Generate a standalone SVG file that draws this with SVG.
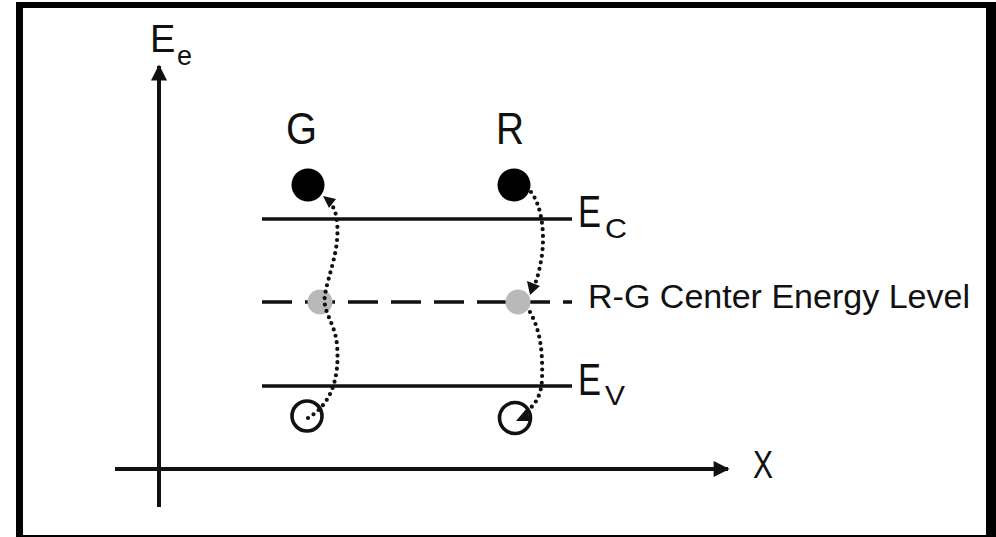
<svg xmlns="http://www.w3.org/2000/svg" width="996" height="537" viewBox="0 0 996 537">
<defs>
<style>
.lbl{font-family:"Liberation Sans",Arial,sans-serif;fill:#111}
.ax{stroke:#111;stroke-width:4;fill:none}
.lvl{stroke:#111;stroke-width:3.5;fill:none}
.dot{stroke:#111;stroke-width:4.2;fill:none;stroke-linecap:round;stroke-dasharray:0 6.6}
.head{fill:#111}
</style>
<marker id="axh" viewBox="0 0 10 10" refX="9" refY="5" markerWidth="5" markerHeight="4" markerUnits="strokeWidth" orient="auto">
<path d="M0,0 L10,5 L0,10 z" fill="#111"/>
</marker>
</defs>
<rect x="16" y="2" width="980" height="535" fill="#000"/>
<rect x="23" y="8" width="963" height="527" fill="#fff"/>

<g id="axes">
<line class="ax" x1="159" y1="507" x2="159" y2="66" marker-end="url(#axh)"/>
<line class="ax" x1="115" y1="469" x2="728" y2="469" marker-end="url(#axh)"/>
<text class="lbl" x="150" y="52" font-size="38">E</text>
<text class="lbl" x="177" y="65" font-size="27">e</text>
<text class="lbl" x="753" y="478" font-size="38" textLength="20" lengthAdjust="spacingAndGlyphs">X</text>
</g>

<g id="level-ec">
<line class="lvl" x1="262" y1="219" x2="572" y2="219"/>
<text class="lbl" x="578" y="227" font-size="44" textLength="23" lengthAdjust="spacingAndGlyphs">E</text>
<text class="lbl" x="605" y="238" font-size="28" textLength="22" lengthAdjust="spacingAndGlyphs">C</text>
</g>

<g id="level-rg">
<line class="lvl" x1="262" y1="302" x2="572" y2="302" stroke-dasharray="30 13"/>
<text class="lbl" x="588" y="308" font-size="34" textLength="382" lengthAdjust="spacingAndGlyphs">R-G Center Energy Level</text>
</g>

<g id="level-ev">
<line class="lvl" x1="262" y1="386" x2="572" y2="386"/>
<text class="lbl" x="578" y="395" font-size="44" textLength="23" lengthAdjust="spacingAndGlyphs">E</text>
<text class="lbl" x="605" y="405" font-size="28" textLength="20" lengthAdjust="spacingAndGlyphs">V</text>
</g>

<g id="node-g">
<text class="lbl" x="286" y="144" font-size="45" textLength="31" lengthAdjust="spacingAndGlyphs">G</text>
<circle cx="308" cy="185" r="16.5" fill="#000"/>
<circle cx="320" cy="302" r="12.5" fill="#b9b9b9"/>
<circle cx="307" cy="416" r="15" fill="none" stroke="#111" stroke-width="3.6"/>
</g>

<g id="node-r">
<text class="lbl" x="496" y="144" font-size="45" textLength="28" lengthAdjust="spacingAndGlyphs">R</text>
<circle cx="514" cy="185" r="16.5" fill="#000"/>
<circle cx="518" cy="302" r="12.5" fill="#b9b9b9"/>
<circle cx="515" cy="418" r="15.5" fill="none" stroke="#111" stroke-width="3.6"/>
</g>

<g id="connectors">
<path class="dot" d="M308,418 C330,405 340,380 337,345 C335,322 322,312 325,295 C328,275 340,250 337,222 C336,212 334,208 331,204"/>
<polygon class="head" points="323,196 336,199 329,208"/>
<path class="dot" d="M531,192 C541,205 545,230 542,255 C540,268 538,276 535,284"/>
<polygon class="head" points="530,295 527,281 540,286"/>
<path class="dot" d="M530,312 C540,330 543,350 542,380 C541,395 536,404 528,410"/>
<polygon class="head" points="516,421 527,408 530,421"/>
</g>
</svg>
